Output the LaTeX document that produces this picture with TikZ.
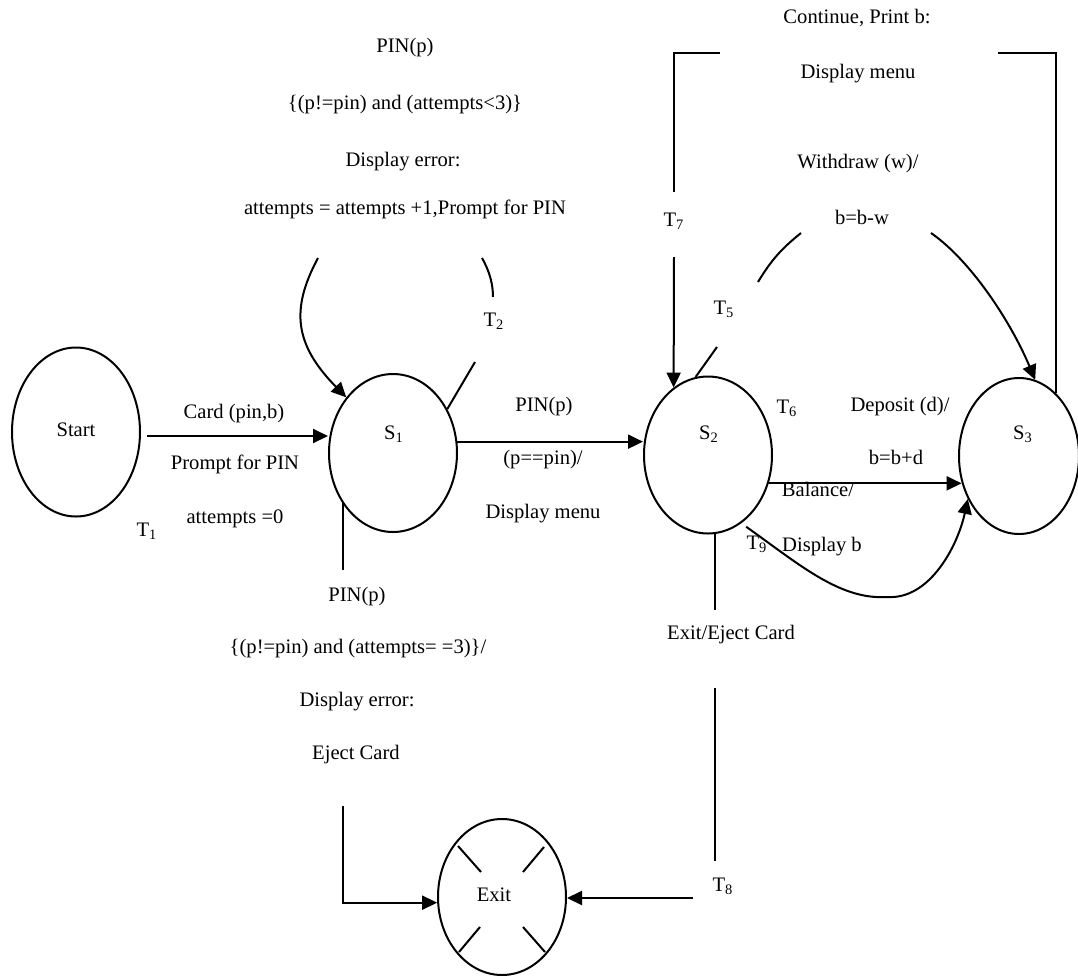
\documentclass[tikz,border=0pt]{standalone}
\usepackage{fontspec}
\setmainfont{Liberation Serif}
\usetikzlibrary{shapes.geometric,arrows.meta,calc}
\begin{document}
\begin{tikzpicture}[x=0.5pt,y=-0.5pt,
  line width=1pt,
  state/.style={draw,ellipse,inner sep=0pt,minimum width=64pt,minimum height=78.5pt},
  lbl/.style={font=\fontsize{10.3}{12}\selectfont,inner sep=0pt,text height=6.8pt,text depth=0pt},
  arr/.style={-{Triangle[length=7.5pt,width=7pt]}}
]
\useasboundingbox (0,0) rectangle (1078,976);

% states
\node[state,minimum height=84.5pt] (start) at (76,432) {};
\node[state,minimum height=79pt] (s1) at (393,453) {};
\node[state] (s2) at (708,455) {};
\node[state,minimum width=60pt,minimum height=78pt] (s3) at (1019,456) {};
\node[state,minimum height=78pt] (exit) at (502,897) {};

\node[lbl] (tstart) at (76,430) {Start};
\node[lbl] (ts1) at (394,433) {S\textsubscript{1}};
\node[lbl] (ts2) at (709,433) {S\textsubscript{2}};
\node[lbl] (ts3) at (1023,433) {S\textsubscript{3}};
\node[lbl] (texit) at (494,895) {Exit};

% cross marks in Exit
\draw ($(exit)+(-44,-51)$) -- ($(exit)+(-21,-25)$);
\draw ($(exit)+(42,-50)$) -- ($(exit)+(21,-25)$);
\draw ($(exit)+(-22,30)$) -- ($(exit)+(-43,55)$);
\draw ($(exit)+(21,30)$) -- ($(exit)+(43,55)$);

% T1: Start -> S1
\coordinate (t1a) at ($(start.east)+(6,4)$);
\draw[arr] (t1a) -- (t1a -| s1.west);
\node[lbl] (l1a) at (234,412) {Card (pin,b)};
\node[lbl] (l1b) at (235,463) {Prompt for PIN};
\node[lbl] (l1c) at (235,517) {attempts =0};
\node[lbl] (lt1) at (147,530) {T\textsubscript{1}};

% T2: S1 self loop
\coordinate (p1) at (318,258);
\draw[arr] (p1) .. controls (290,310) and (295,345) .. (s1.130);
\coordinate (p2) at (475,362);
\draw (s1.39) -- (p2);
\coordinate (p3) at (482,258);
\coordinate (p4) at (493,297);
\draw (p3) .. controls (490,272) and (493,285) .. (p4);
\node[lbl] (lt2) at (494,320) {T\textsubscript{2}};
\node[lbl] (l2a) at (405,46) {PIN(p)};
\node[lbl] (l2b) at (405,103) {\{(p!=pin) and (attempts<3)\}};
\node[lbl] (l2c) at (403,160) {Display error:};
\node[lbl] (l2d) at (405,208) {attempts = attempts +1,Prompt for PIN};

% T3: S1 -> S2
\draw[arr] (s1.10) -- (s1.10 -| s2.west);
\node[lbl] (l3a) at (544,405) {PIN(p)};
\node[lbl] (l3b) at (543,458) {(p==pin)/};
\node[lbl] (l3c) at (543,512) {Display menu};

% T4: S1 -> Exit
\coordinate (b1) at (343,570);
\draw (s1.225) -- (s1.225 |- b1);
\coordinate (b2) at (343,806);
\draw[arr] (b2) |- (exit.185);
\node[lbl] (l4a) at (357,595) {PIN(p)};
\node[lbl] (l4b) at (358,647) {\{(p!=pin) and (attempts= =3)\}/};
\node[lbl] (l4c) at (357,700) {Display error:};
\node[lbl] (l4d) at (356,753) {Eject Card};

% T5: S2 -> S3 (withdraw)
\coordinate (w1) at (717,347);
\draw (s2.99) -- (w1);
\coordinate (w2) at (758,282);
\coordinate (w3) at (801,233);
\draw (w2) to[bend left=10] (w3);
\coordinate (w4) at (931,233);
\draw[arr] (w4) .. controls (970,260) and (1010,320) .. (s3.78);
\node[lbl] (lt5) at (724,308) {T\textsubscript{5}};
\node[lbl] (l5a) at (858,162) {Withdraw (w)/};
\node[lbl] (l5b) at (862,218) {b=b-w};

% T6: S2 -> S3 (deposit)
\draw[arr] (s2.335) -- (s2.335 -| s3.205);
\node[lbl] (lt6) at (787,407) {T\textsubscript{6}};
\node[lbl] (l6a) at (900,405) {Deposit (d)/};
\node[lbl] (l6b) at (896,458) {b=b+d};

% T9: S2 -> S3 (balance)
\draw[arr,shorten <=3pt] (s2.296) .. controls (800,565) and (840,600) .. (887,597)
   .. controls (930,600) and (958,545) .. (s3.220);
\node[lbl] (l9a) at (818,490) {Balance/};
\node[lbl] (l9b) at (822,545) {Display b};
\node[lbl] (lt9) at (757,543) {T\textsubscript{9}};

% T7: S3 -> S2
\coordinate (c1) at (998,53);
\draw (s3.60) |- (c1);
\coordinate (c2) at (720,53);
\coordinate (c3) at (674,192);
\draw (c2) -| (c3);
\coordinate (c4) at (674,257);
\draw[arr] (c4) -- (s2.117);
\node[lbl] (lt7) at (674,220) {T\textsubscript{7}};
\node[lbl] (l7a) at (857,17) {Continue, Print b:};
\node[lbl] (l7b) at (858,72) {Display menu};

% T8: S2 -> Exit
\coordinate (x1) at (715,610);
\draw (s2.275) -- (s2.275 |- x1);
\coordinate (x2) at (715,688);
\coordinate (x3) at (715,861);
\draw (x2) -- (x3);
\coordinate (x4) at (693,898);
\draw[arr] (x4) -- (x4 -| exit.east);
\node[lbl] (l8a) at (731,633) {Exit/Eject Card};
\node[lbl] (lt8) at (723,885) {T\textsubscript{8}};
\end{tikzpicture}
\end{document}
